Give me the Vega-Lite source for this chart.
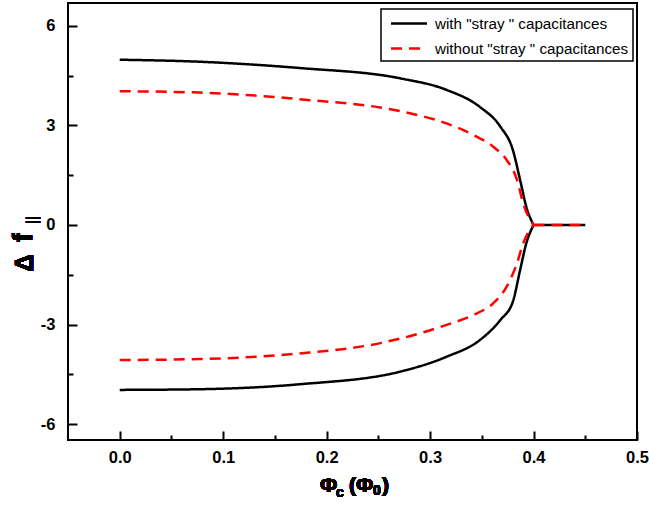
{
  "$schema": "https://vega.github.io/schema/vega-lite/v6.json",
  "width": 569,
  "height": 437,
  "autosize": {"type": "none"},
  "padding": {"left": 68, "top": 3, "right": 12, "bottom": 70},
  "background": "white",
  "config": {
    "view": {"stroke": "black", "strokeWidth": 2},
    "font": "Liberation Sans",
    "axis": {
      "domain": false, "tickColor": "black", "tickWidth": 2,
      "labelColor": "black", "labelFont": "Liberation Sans", "labelFontSize": 16.5, "labelFontWeight": "bold",
      "grid": false, "labelOverlap": false, "labelFlush": false, "ticks": true, "zindex": 1
    },
    "legend": {"strokeWidth": 1.5}
  },
  "resolve": {"axis": {"x": "independent", "y": "independent"}},
  "data": {
    "values": [
      {"series": "with \"stray \" capacitances", "branch": "up", "phi": 0.0, "df": 4.98},
      {"series": "with \"stray \" capacitances", "branch": "up", "phi": 0.077, "df": 4.92},
      {"series": "with \"stray \" capacitances", "branch": "up", "phi": 0.174, "df": 4.73},
      {"series": "with \"stray \" capacitances", "branch": "up", "phi": 0.271, "df": 4.42},
      {"series": "with \"stray \" capacitances", "branch": "up", "phi": 0.316, "df": 4.07},
      {"series": "with \"stray \" capacitances", "branch": "up", "phi": 0.348, "df": 3.56},
      {"series": "with \"stray \" capacitances", "branch": "up", "phi": 0.368, "df": 2.96},
      {"series": "with \"stray \" capacitances", "branch": "up", "phi": 0.380, "df": 2.26},
      {"series": "with \"stray \" capacitances", "branch": "up", "phi": 0.387, "df": 1.36},
      {"series": "with \"stray \" capacitances", "branch": "up", "phi": 0.393, "df": 0.55},
      {"series": "with \"stray \" capacitances", "branch": "up", "phi": 0.400, "df": 0},
      {"series": "with \"stray \" capacitances", "branch": "down", "phi": 0.0, "df": -4.97},
      {"series": "with \"stray \" capacitances", "branch": "down", "phi": 0.077, "df": -4.95},
      {"series": "with \"stray \" capacitances", "branch": "down", "phi": 0.174, "df": -4.80},
      {"series": "with \"stray \" capacitances", "branch": "down", "phi": 0.271, "df": -4.42},
      {"series": "with \"stray \" capacitances", "branch": "down", "phi": 0.316, "df": -3.97},
      {"series": "with \"stray \" capacitances", "branch": "down", "phi": 0.348, "df": -3.47},
      {"series": "with \"stray \" capacitances", "branch": "down", "phi": 0.368, "df": -2.86},
      {"series": "with \"stray \" capacitances", "branch": "down", "phi": 0.380, "df": -2.31},
      {"series": "with \"stray \" capacitances", "branch": "down", "phi": 0.387, "df": -1.36},
      {"series": "with \"stray \" capacitances", "branch": "down", "phi": 0.393, "df": -0.55},
      {"series": "with \"stray \" capacitances", "branch": "down", "phi": 0.400, "df": 0},
      {"series": "with \"stray \" capacitances", "branch": "flat", "phi": 0.400, "df": 0},
      {"series": "with \"stray \" capacitances", "branch": "flat", "phi": 0.450, "df": 0},
      {"series": "without \"stray \" capacitances", "branch": "up", "phi": 0.0, "df": 4.03},
      {"series": "without \"stray \" capacitances", "branch": "up", "phi": 0.077, "df": 3.99},
      {"series": "without \"stray \" capacitances", "branch": "up", "phi": 0.174, "df": 3.79},
      {"series": "without \"stray \" capacitances", "branch": "up", "phi": 0.271, "df": 3.43},
      {"series": "without \"stray \" capacitances", "branch": "up", "phi": 0.316, "df": 3.06},
      {"series": "without \"stray \" capacitances", "branch": "up", "phi": 0.342, "df": 2.71},
      {"series": "without \"stray \" capacitances", "branch": "up", "phi": 0.361, "df": 2.36},
      {"series": "without \"stray \" capacitances", "branch": "up", "phi": 0.374, "df": 1.96},
      {"series": "without \"stray \" capacitances", "branch": "up", "phi": 0.384, "df": 1.36},
      {"series": "without \"stray \" capacitances", "branch": "up", "phi": 0.390, "df": 0.65},
      {"series": "without \"stray \" capacitances", "branch": "up", "phi": 0.400, "df": 0},
      {"series": "without \"stray \" capacitances", "branch": "down", "phi": 0.0, "df": -4.07},
      {"series": "without \"stray \" capacitances", "branch": "down", "phi": 0.077, "df": -4.04},
      {"series": "without \"stray \" capacitances", "branch": "down", "phi": 0.174, "df": -3.87},
      {"series": "without \"stray \" capacitances", "branch": "down", "phi": 0.252, "df": -3.56},
      {"series": "without \"stray \" capacitances", "branch": "down", "phi": 0.316, "df": -3.01},
      {"series": "without \"stray \" capacitances", "branch": "down", "phi": 0.342, "df": -2.71},
      {"series": "without \"stray \" capacitances", "branch": "down", "phi": 0.361, "df": -2.36},
      {"series": "without \"stray \" capacitances", "branch": "down", "phi": 0.374, "df": -1.86},
      {"series": "without \"stray \" capacitances", "branch": "down", "phi": 0.384, "df": -1.15},
      {"series": "without \"stray \" capacitances", "branch": "down", "phi": 0.390, "df": -0.55},
      {"series": "without \"stray \" capacitances", "branch": "down", "phi": 0.400, "df": 0},
      {"series": "without \"stray \" capacitances", "branch": "flat", "phi": 0.400, "df": 0},
      {"series": "without \"stray \" capacitances", "branch": "flat", "phi": 0.450, "df": 0}
    ]
  },
  "layer": [
    {
      "mark": {"type": "line", "strokeWidth": 2.5, "interpolate": "monotone"},
      "encoding": {
        "x": {
          "field": "phi", "type": "quantitative",
          "scale": {"domain": [-0.05, 0.5], "nice": false, "zero": false},
          "axis": {
            "title": null, "orient": "bottom",
            "values": [0, 0.1, 0.2, 0.3, 0.4, 0.5],
            "format": ".1f",
            "tickSize": 9, "offset": -9, "labelPadding": 9
          }
        },
        "y": {
          "field": "df", "type": "quantitative",
          "scale": {"domain": [-6.48, 6.69], "nice": false, "zero": false},
          "axis": {
            "title": null, "orient": "left",
            "values": [-6, -3, 0, 3, 6],
            "labelExpr": "'' + datum.value",
            "tickSize": 9, "offset": -9, "labelPadding": 13
          }
        },
        "color": {
          "field": "series", "type": "nominal",
          "scale": {"domain": ["with \"stray \" capacitances", "without \"stray \" capacitances"], "range": ["black", "#ff0000"]},
          "legend": {
            "title": null, "orient": "none", "legendX": 313, "legendY": 6,
            "symbolType": "M-2,0H2", "symbolSize": 324, "symbolStrokeWidth": 2.5,
            "labelFontSize": 15.2, "labelFont": "Liberation Sans", "labelColor": "black",
            "labelOffset": 15.5, "labelLimit": 500, "padding": 4, "rowPadding": 6,
            "strokeColor": "black", "symbolOffset": 13.5
          }
        },
        "strokeDash": {
          "field": "series", "type": "nominal",
          "scale": {"domain": ["with \"stray \" capacitances", "without \"stray \" capacitances"], "range": [[1, 0], [11, 7]]},
          "legend": {
            "title": null, "orient": "none", "legendX": 313, "legendY": 6,
            "symbolType": "M-2,0H2", "symbolSize": 324, "symbolStrokeWidth": 2.5,
            "labelFontSize": 15.2, "labelFont": "Liberation Sans", "labelColor": "black",
            "labelOffset": 15.5, "labelLimit": 500, "padding": 4, "rowPadding": 6,
            "strokeColor": "black", "symbolOffset": 13.5
          }
        },
        "detail": {"field": "branch", "type": "nominal"}
      }
    },
    {
      "mark": {"type": "text", "text": "Φ", "align": "left", "baseline": "alphabetic", "fontSize": 21, "fontWeight": "bold", "font": "Liberation Sans", "color": "black"},
      "encoding": {
        "x": {"datum": 0.1936, "scale": {"domain": [-0.05, 0.5], "nice": false, "zero": false},
              "axis": {"title": null, "orient": "bottom", "values": [0.05, 0.15, 0.25, 0.35, 0.45], "labels": false, "tickSize": 5, "offset": -5}},
        "y": {"datum": -8.048, "scale": {"domain": [-6.48, 6.69], "nice": false, "zero": false},
              "axis": {"title": null, "orient": "left", "values": [-4.5, -1.5, 1.5, 4.5], "labels": false, "tickSize": 5, "offset": -5}}
      }
    },
    {
      "mark": {"type": "text", "text": "Δ", "angle": 270, "align": "left", "baseline": "alphabetic", "fontSize": 25, "fontWeight": "bold", "font": "Liberation Sans", "color": "black"},
      "encoding": {"x": {"datum": -0.0838, "axis": null}, "y": {"datum": -1.417, "axis": null}}
    },
    {
      "mark": {"type": "text", "text": "f", "angle": 270, "align": "left", "baseline": "alphabetic", "fontSize": 27, "fontWeight": "bold", "font": "Liberation Sans", "color": "black"},
      "encoding": {"x": {"datum": -0.0848, "axis": null}, "y": {"datum": -0.513, "axis": null}}
    },
    {
      "mark": {"type": "text", "text": "||", "angle": 270, "align": "left", "baseline": "alphabetic", "fontSize": 14, "fontWeight": "bold", "font": "Liberation Sans", "color": "black"},
      "encoding": {"x": {"datum": -0.0800, "axis": null}, "y": {"datum": 0.03, "axis": null}}
    },
    {
      "mark": {"type": "text", "text": "c", "align": "left", "baseline": "alphabetic", "fontSize": 14, "fontWeight": "bold", "font": "Liberation Sans", "color": "black"},
      "encoding": {"x": {"datum": 0.2091, "axis": null}, "y": {"datum": -8.198, "axis": null}}
    },
    {
      "mark": {"type": "text", "text": "(Φ", "align": "left", "baseline": "alphabetic", "fontSize": 21, "fontWeight": "bold", "font": "Liberation Sans", "color": "black"},
      "encoding": {"x": {"datum": 0.2216, "axis": null}, "y": {"datum": -8.048, "axis": null}}
    },
    {
      "mark": {"type": "text", "text": "0", "align": "left", "baseline": "alphabetic", "fontSize": 14, "fontWeight": "bold", "font": "Liberation Sans", "color": "black"},
      "encoding": {"x": {"datum": 0.2448, "axis": null}, "y": {"datum": -8.138, "axis": null}}
    },
    {
      "mark": {"type": "text", "text": ")", "align": "left", "baseline": "alphabetic", "fontSize": 21, "fontWeight": "bold", "font": "Liberation Sans", "color": "black"},
      "encoding": {"x": {"datum": 0.2535, "axis": null}, "y": {"datum": -8.048, "axis": null}}
    }
  ]
}
